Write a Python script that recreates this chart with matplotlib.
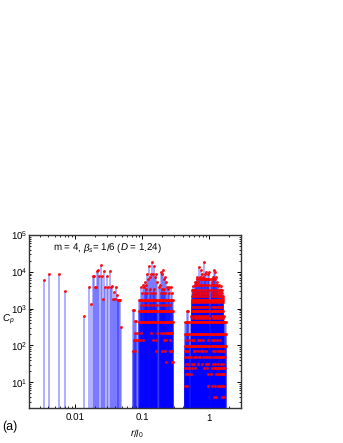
import matplotlib
matplotlib.use('Agg')
import matplotlib.pyplot as plt
from matplotlib.ticker import LogLocator, NullFormatter, FixedLocator, FixedFormatter

plt.rcParams['font.family'] = ['Liberation Sans', 'DejaVu Sans']
plt.rcParams['text.hinting'] = 'no_hinting'
plt.rcParams['mathtext.fontset'] = 'custom'
plt.rcParams['mathtext.rm'] = 'Liberation Sans'
plt.rcParams['mathtext.it'] = 'Liberation Sans:italic'
plt.rcParams['mathtext.bf'] = 'Liberation Sans:bold'

BLUE = '#0000ff'
RED = '#ff0000'

# first two clusters, read stem by stem
sparse_r = [0.0035, 0.0041, 0.0057, 0.0070, 0.0136, 0.0162, 0.0175, 0.0186, 0.0192, 0.0199,
            0.0206, 0.0215, 0.0222, 0.0232, 0.0241, 0.0250, 0.0258, 0.0270, 0.0285, 0.0300,
            0.0312, 0.0330, 0.0345, 0.0360, 0.0372, 0.0385, 0.0395, 0.0410, 0.0425, 0.0435,
            0.0445, 0.0458, 0.0470, 0.0480]
sparse_cp = [5900, 8900, 8900, 3000, 650, 3900, 1300, 7900, 7900, 3900,
             3900, 10500, 11500, 7900, 15800, 7900, 1800, 10500, 3900, 7900,
             3900, 10700, 3900, 4000, 1800, 2900, 1800, 3900, 2400, 1750,
             1750, 1750, 1750, 320]

# third cluster, r = 0.07 .. 0.3
c3_low_r = [0.0735, 0.0760, 0.0787, 0.0815, 0.0843, 0.0870]
c3_low_cp = [890, 890, 450, 450, 220, 142]
c3_dense_r = [0.0902, 0.0933, 0.0966, 0.1000, 0.1035, 0.1071, 0.1108, 0.1147, 0.1187,
              0.1228, 0.1271, 0.1316, 0.1361, 0.1409, 0.1458, 0.1509, 0.1561, 0.1616,
              0.1672, 0.1791, 0.1854, 0.1918, 0.1985, 0.2054, 0.2126, 0.2200, 0.2277,
              0.2356, 0.2438, 0.2523, 0.2611, 0.2702, 0.2796, 0.2894]
c3_peak_r = [0.0966, 0.1035, 0.1071, 0.1108, 0.1147, 0.1187, 0.1228, 0.1271, 0.1316,
             0.1361, 0.1409, 0.1458, 0.1509, 0.1561, 0.1616, 0.1672, 0.1791, 0.1854,
             0.1918, 0.1985, 0.2054, 0.2126, 0.2200, 0.2277, 0.2356, 0.2523, 0.2702, 0.2796]
c3_peak_cp = [3900, 4400, 3950, 5400, 4450, 8900, 6500, 14000, 7400, 8900,
              19000, 8900, 14000, 7400, 8900, 5400, 3950, 4450, 10100, 8900,
              11500, 6500, 7400, 5400, 3950, 3950, 3950, 2700]
c3_row_3500_r = [0.1147, 0.1316, 0.1509, 0.1985, 0.2126, 0.2438]
c3_row_2700_r = [0.1000, 0.1108, 0.1187, 0.1361, 0.1458, 0.1561, 0.1918, 0.2054, 0.2200, 0.2523]
c3_row_1280_r = [0.0966, 0.1071, 0.1187, 0.1271, 0.1409, 0.1561, 0.1672, 0.1918, 0.2054,
                 0.2200, 0.2356, 0.2611]
c3_row_220_r = [0.0787, 0.0966, 0.1361, 0.1672, 0.1918, 0.2054, 0.2200, 0.2356, 0.2438,
                0.2523, 0.2611, 0.2702, 0.2796]
c3_row_142_r = [0.0760, 0.0815, 0.0933, 0.1035, 0.1458, 0.1616, 0.2126, 0.2277, 0.2611]
c3_row_71_r = [0.0735, 0.0787, 0.1616, 0.1985, 0.2200, 0.2611, 0.2796]
c3_row_36_r = [0.2277, 0.2796, 0.2894]

# fourth cluster, r = 0.43 .. 1.8
c4_dense_r = [0.434, 0.449, 0.465, 0.482, 0.498, 0.534, 0.553, 0.572, 0.592, 0.612,
              0.634, 0.656, 0.679, 0.702, 0.727, 0.752, 0.779, 0.806, 0.834, 0.863,
              0.893, 0.924, 0.956, 0.990, 1.060, 1.097, 1.135, 1.175, 1.216, 1.258,
              1.302, 1.348, 1.395, 1.444, 1.494, 1.546, 1.600, 1.656, 1.714, 1.774]
c4_upper_r = [0.553, 0.572, 0.592, 0.612, 0.634, 0.656, 0.679, 0.702, 0.727, 0.752,
              0.779, 0.806, 0.834, 0.863, 0.893, 0.924, 0.956, 0.990, 1.060, 1.097,
              1.135, 1.175, 1.216, 1.258, 1.302, 1.348, 1.395, 1.444, 1.494, 1.546, 1.600]
c4_peak_r = [0.465, 0.482, 0.553, 0.572, 0.592, 0.612, 0.634, 0.656, 0.679, 0.702,
             0.727, 0.752, 0.779, 0.806, 0.834, 0.863, 0.893, 0.924, 0.956, 0.990,
             1.060, 1.097, 1.135, 1.175, 1.216, 1.258, 1.302, 1.348, 1.395, 1.444,
             1.494, 1.546, 1.600]
c4_peak_cp = [877, 877, 3300, 4000, 3300, 5400, 5400, 7400, 5400, 13900,
              7400, 11500, 8900, 7400, 19000, 8900, 10100, 6500, 8900, 10100,
              6500, 5400, 7400, 11500, 10100, 7400, 5400, 4000, 4500, 3300,
              4000, 3300, 2000]
c4_row_6500_r = [0.656, 0.702, 0.752, 0.779, 0.834, 0.863, 0.893, 0.956, 0.990, 1.135, 1.175, 1.216]
c4_row_4500_r = [0.612, 0.634, 0.679, 0.727, 0.779, 0.806, 0.863, 0.924, 0.956, 1.060, 1.097,
                 1.175, 1.258, 1.302]
c4_row_3300_r = [0.572, 0.612, 0.656, 0.702, 0.752, 0.806, 0.863, 0.924, 0.990, 1.060,
                 1.135, 1.216, 1.302, 1.395, 1.494]
c4_row_2700_r = [0.572, 0.592, 0.634, 0.679, 0.727, 0.779, 0.834, 0.893, 0.956, 1.097,
                 1.175, 1.258, 1.348, 1.444, 1.546]
c4_row_2200_r = [0.553, 0.592, 0.634, 0.679, 0.727, 0.779, 0.834, 0.893, 0.956, 1.097,
                 1.175, 1.258, 1.348, 1.444, 1.546, 1.600]
c4_row_1500_r = [0.553, 0.572, 0.612, 0.656, 0.702, 0.752, 0.806, 0.863, 0.924, 0.990,
                 1.060, 1.135, 1.216, 1.302, 1.395, 1.494, 1.600]
c4_row_1100_r = [0.553, 0.592, 0.634, 0.679, 0.727, 0.779, 0.834, 0.893, 0.956, 1.097,
                 1.175, 1.258, 1.348, 1.444, 1.546]
c4_row_640_r = [0.534, 0.592, 0.634, 0.679, 0.727, 0.779, 0.834, 0.893, 0.956, 1.097,
                1.175, 1.258, 1.348, 1.444, 1.546, 1.656]
c4_row_540_r = [0.553, 0.612, 0.656, 0.702, 0.752, 0.806, 0.863, 0.924, 0.990, 1.135,
                1.216, 1.302, 1.395, 1.494, 1.600]
c4_row_97_extra_r = [0.516]
c4_row_142_r = [0.449, 0.498, 0.553, 0.592, 0.679, 0.727, 0.806, 0.956, 1.097, 1.175,
                1.302, 1.444]
c4_row_71_r = [0.434, 0.449, 0.482, 0.592, 0.612, 0.679, 0.752, 0.806, 0.893, 1.135,
               1.216, 1.348, 1.444, 1.546, 1.656]
c4_row_49_r = [0.434, 0.465, 0.498, 0.534, 0.592, 0.634, 0.702, 0.727, 0.806, 0.863,
               0.924, 0.990, 1.060, 1.175, 1.258, 1.348, 1.444, 1.494, 1.546, 1.600, 1.714]
c4_row_32_r = [0.449, 0.482, 0.553, 0.592, 0.679, 0.779, 0.893, 0.956, 1.135, 1.216,
               1.348, 1.494, 1.600]
c4_row_24_r = [0.434, 0.465, 0.498, 0.553, 0.612, 0.834, 0.924, 1.097, 1.175, 1.258,
               1.302, 1.348, 1.395, 1.444, 1.494, 1.546, 1.600, 1.656, 1.714]
c4_row_17_r = [0.449, 0.482, 0.534, 0.956, 1.060, 1.258, 1.348, 1.444, 1.546, 1.600, 1.656]
c4_row_8_r = [0.434, 0.465, 0.956, 1.097, 1.216, 1.348, 1.444, 1.546, 1.656]
c4_row_4_r = [1.175, 1.258, 1.546, 1.656]

stems_r = []
stems_cp = []


def add_row(r_list, cp):
    stems_r.extend(r_list)
    stems_cp.extend([cp] * len(r_list))


def add_points(r_list, cp_list):
    stems_r.extend(r_list)
    stems_cp.extend(cp_list)


add_points(sparse_r, sparse_cp)
add_points(c3_low_r, c3_low_cp)
add_points(c3_peak_r, c3_peak_cp)
add_row(c3_row_3500_r, 3500)
add_row(c3_row_2700_r, 2700)
add_row(c3_dense_r, 1750)
add_row(c3_row_1280_r, 1280)
add_row(c3_dense_r, 877)
add_row(c3_dense_r, 440)
add_row(c3_row_220_r, 220)
add_row(c3_row_142_r, 142)
add_row(c3_row_71_r, 71)
add_row(c3_row_36_r, 36)

add_points(c4_peak_r, c4_peak_cp)
add_row(c4_row_6500_r, 6500)
add_row(c4_row_4500_r, 4500)
add_row(c4_row_3300_r, 3300)
add_row(c4_row_2700_r, 2700)
add_row(c4_row_2200_r, 2200)
add_row(c4_upper_r, 1750)
add_row(c4_row_1500_r, 1500)
add_row(c4_row_1100_r, 1100)
add_row(c4_upper_r, 877)
add_row(c4_row_640_r, 640)
add_row(c4_row_540_r, 540)
add_row(c4_dense_r, 440)
add_row(c4_dense_r, 207)
add_row(c4_row_142_r, 142)
add_row(c4_dense_r, 97)
add_row(c4_row_97_extra_r, 97)
add_row(c4_row_71_r, 71)
add_row(c4_row_49_r, 49)
add_row(c4_row_32_r, 32)
add_row(c4_row_24_r, 24.5)
add_row(c4_row_17_r, 17)
add_row(c4_row_8_r, 8)
add_row(c4_row_4_r, 4)

fig = plt.figure(figsize=(3.43, 4.43), dpi=100)
ax = fig.add_axes((29 / 343, 1 - 408 / 443, 212 / 343, 173 / 443))

ax.set_xscale('log')
ax.set_yscale('log')
ax.set_xlim(0.00207, 2.97)
ax.set_ylim(2, 1e5)

ax.vlines(stems_r, 2, stems_cp, color=BLUE, alpha=0.4, lw=1.1, zorder=2)
ax.plot(stems_r, stems_cp, ls='none', marker='o', ms=2.1, mfc=RED, mec='none', alpha=0.9, zorder=3)

for side in ax.spines.values():
    side.set_linewidth(1.0)
    side.set_color('#333333')

ax.xaxis.set_major_locator(FixedLocator([0.01, 0.1, 1]))
ax.xaxis.set_major_formatter(FixedFormatter(['0.01', '0.1', '1']))
ax.xaxis.set_minor_locator(LogLocator(base=10, subs=range(2, 10), numticks=12))
ax.xaxis.set_minor_formatter(NullFormatter())
ax.yaxis.set_major_locator(FixedLocator([1e1, 1e2, 1e3, 1e4, 1e5]))
ax.yaxis.set_major_formatter(FixedFormatter([r'10$^{1}$', r'10$^{2}$', r'10$^{3}$', r'10$^{4}$', r'10$^{5}$']))
ax.yaxis.set_minor_locator(LogLocator(base=10, subs=range(2, 10), numticks=12))
ax.yaxis.set_minor_formatter(NullFormatter())

ax.tick_params(which='major', direction='in', top=True, right=True, length=3.2, width=0.7, labelsize=7)
ax.tick_params(which='minor', direction='in', top=True, right=True, length=1.6, width=0.6)
ax.tick_params(axis='x', which='major', pad=4)
ax.tick_params(axis='y', which='major', pad=1)

fig.text(53 / 343, 1 - 248 / 443, r'm = 4, $\beta_s$= 1/6 ($D$ = 1.24)', fontsize=7, ha='left', va='center')
fig.text(2 / 343, 1 - 320 / 443, r'$C_p$', fontsize=7, ha='left', va='center')
fig.text(137 / 343, 1 - 434 / 443, r'$r/\mathbf{\mathit{l}}_0$', fontsize=7, ha='center', va='center')
fig.text(2 / 343, 1 - 427 / 443, '(a)', fontsize=9, ha='left', va='center')

fig.savefig('out.png', dpi=100)
